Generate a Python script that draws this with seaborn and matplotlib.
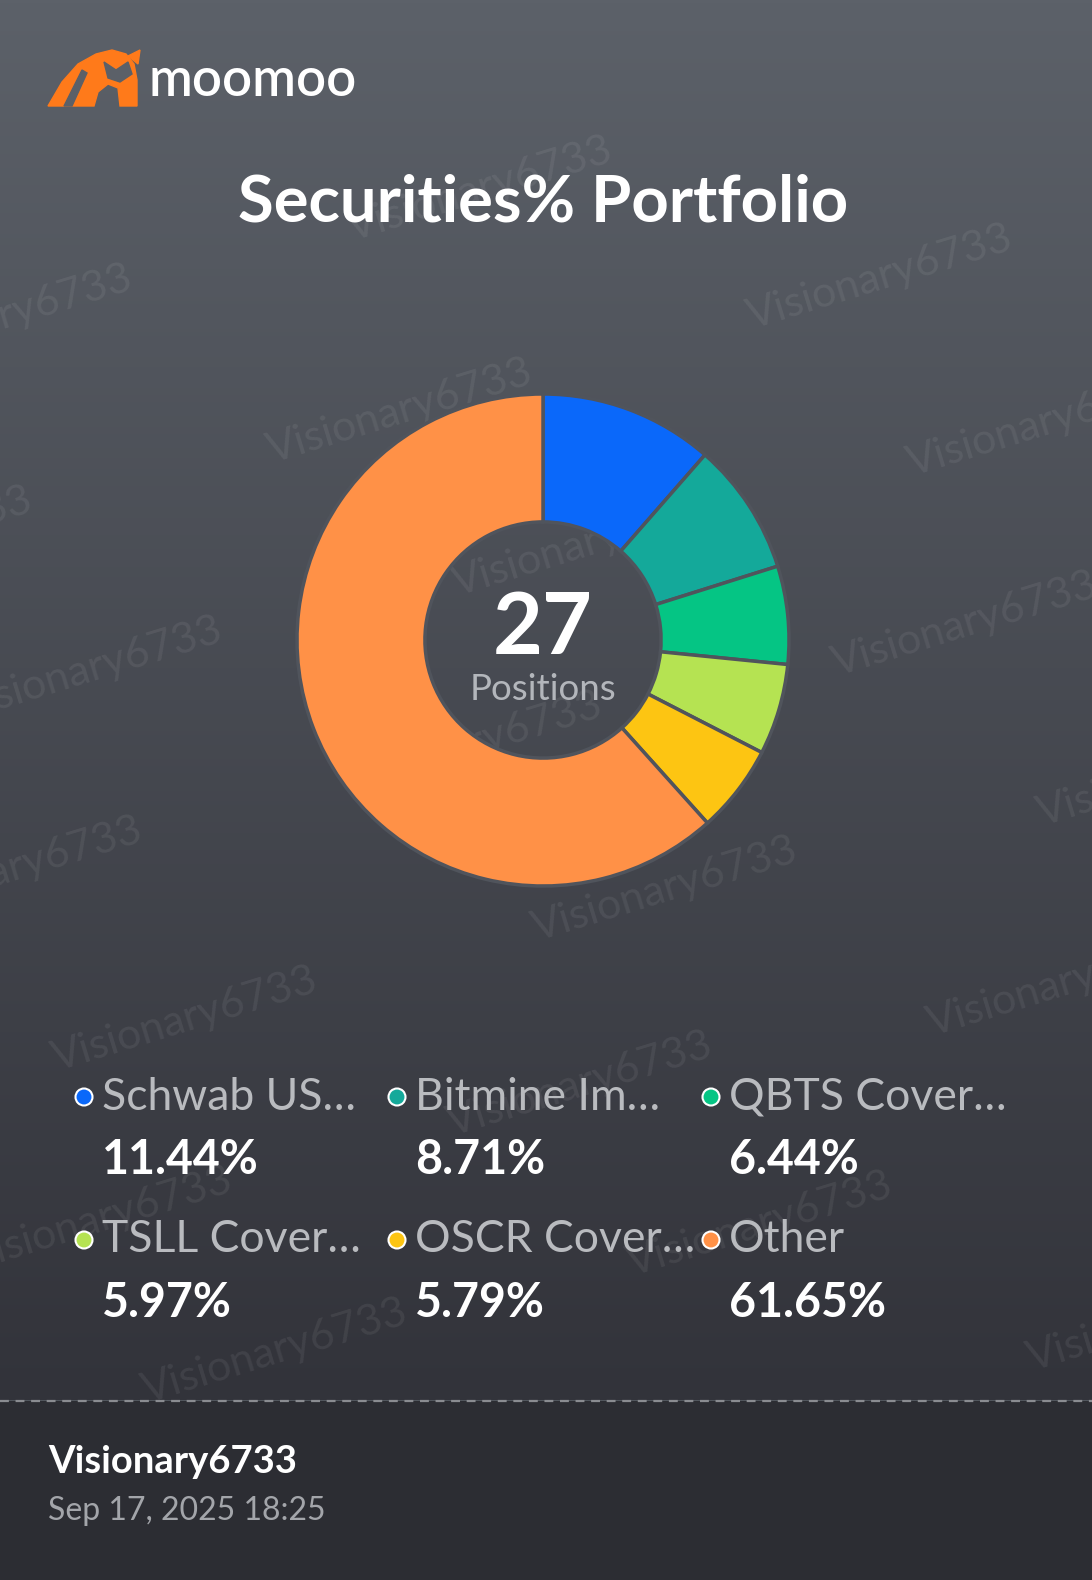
import numpy as np
import matplotlib
matplotlib.use("Agg")
import matplotlib.pyplot as plt
from matplotlib.patches import Polygon, Rectangle, Circle
import seaborn as sns

# data
names = ["Schwab US…", "Bitmine Im…", "QBTS Cover…", "TSLL Cover…", "OSCR Cover…", "Other"]
shares = [11.44, 8.71, 6.44, 5.97, 5.79, 61.65]
colors = ["#0a68fa", "#14a99a", "#05c584", "#b5e352", "#fdc512", "#ff9147"]
positions = 27
title = "Securities% Portfolio"
user = "Visionary6733"
stamp = "Sep 17, 2025 18:25"

sns.set_style("dark")
plt.rcParams["font.family"] = ["Lato", "DejaVu Sans"]

W, H = 1092, 1580
fig = plt.figure(figsize=(W / 100, H / 100), dpi=100)

# background in pixel space
bg = fig.add_axes([0, 0, 1, 1])
bg.set_xlim(0, W)
bg.set_ylim(H, 0)
bg.axis("off")
top = np.array([92, 97, 105]) / 255
bot = np.array([50, 51, 58]) / 255
t = np.linspace(0, 1, 400)[:, None]
grad = (top * (1 - t) + bot * t)[:, None, :]
bg.imshow(grad, extent=[0, W, 1400, 0], aspect="auto", zorder=0)

# watermarks (cut at the edges like the original)
marks = [(480, 190), (880, 278), (0, 318), (400, 412), (1040, 425), (-100, 540),
         (585, 545), (965, 625), (90, 670), (470, 745), (1170, 775), (10, 870),
         (665, 890), (1060, 985), (185, 1020), (580, 1085), (100, 1220),
         (760, 1225), (275, 1352), (1160, 1320)]
for mx, my in marks:
    bg.text(mx, my, user, fontsize=31, color="white", alpha=0.07, rotation=17,
            ha="center", va="center", zorder=1)

# footer
bg.add_patch(Rectangle((0, 1401), W, H - 1401, color="#2c2d33", zorder=2))
bg.plot([0, W], [1401, 1401], color="#8a8c91", lw=1.6, ls=(0, (4, 3)), zorder=3)
bg.text(48, 1462, user, fontsize=27.5, fontweight="bold", color="white", va="center", zorder=4)
bg.text(48, 1511, stamp, fontsize=23, color="#a3a5aa", va="center", zorder=4)

# logo
bull = [(48, 106), (62, 82), (78, 64), (96, 54), (112, 50), (126, 54), (134, 64),
        (137, 80), (137, 106), (120, 106), (118, 88), (108, 84), (98, 92), (94, 106)]
bg.add_patch(Polygon(bull, closed=True, color="#ff7a1a", zorder=4))
bg.add_patch(Polygon([(64, 106), (82, 70), (87, 73), (72, 106)], closed=True,
                     color="#5b6068", zorder=5))
bg.add_patch(Polygon([(104, 62), (116, 70), (128, 62), (132, 74), (120, 82), (108, 78)],
                     closed=True, color="#5b6068", zorder=5))
bg.add_patch(Polygon([(128, 56), (140, 50), (138, 64)], closed=True, color="#ff7a1a", zorder=4))
bg.text(148, 80, "moomoo", fontsize=38, fontweight="semibold", color="white", va="center", zorder=4)

# title
bg.text(543, 203, title, fontsize=47, fontweight="bold", color="white",
        ha="center", va="center", zorder=4)

# donut
cx, cy, r = 543, 640, 246
ax = fig.add_axes([(cx - r) / W, 1 - (cy + r) / H, 2 * r / W, 2 * r / H])
ax.pie(shares, colors=colors, startangle=90, counterclock=False, radius=1,
       wedgeprops=dict(width=0.52, edgecolor="#50545c", linewidth=2.5))
ax.set_xlim(-1.0, 1.0)
ax.set_ylim(-1.0, 1.0)
ax.axis("off")
ax.patch.set_alpha(0)

bg.text(cx, 630, str(positions), fontsize=62, fontweight="bold", color="white",
        ha="center", va="center", zorder=4)
bg.text(cx, 689, "Positions", fontsize=26.5, color="#b3b6bb", ha="center", va="center", zorder=4)

# legend
col_x = [84, 397, 711]
row_y = [1097, 1240]
for i, (n, s, c) in enumerate(zip(names, shares, colors)):
    x = col_x[i % 3]
    y = row_y[i // 3]
    bg.add_patch(Circle((x, y), 8.5, facecolor=c, edgecolor="white", lw=1.5, zorder=4))
    bg.text(x + 18, y, n, fontsize=32, color="#b9bbbf", va="center", zorder=4)
    bg.text(x + 18, y + 63, f"{s:.2f}%", fontsize=33.5, fontweight="bold",
            color="white", va="center", zorder=4)

fig.savefig("out.png", dpi=100, facecolor="#5b6068")
